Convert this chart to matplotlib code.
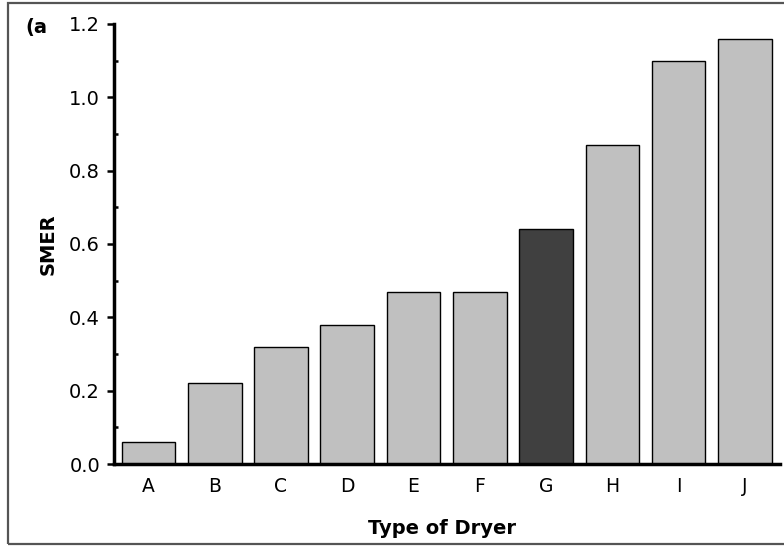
import matplotlib
matplotlib.use("Agg")
import matplotlib.pyplot as plt
from matplotlib.patches import Rectangle
from matplotlib.ticker import MultipleLocator, FormatStrFormatter

categories = ["A", "B", "C", "D", "E", "F", "G", "H", "I", "J"]
smer = [0.06, 0.22, 0.32, 0.38, 0.47, 0.47, 0.64, 0.87, 1.10, 1.16]
highlight = "G"

plt.rcParams['font.family'] = ['DejaVu Sans']

fig = plt.figure(figsize=(7.84, 5.46), dpi=100)
ax = fig.add_axes([114/784, 1-464/546, (780-114)/784, (464-24)/546])

colors = ["#404040" if c == highlight else "#C0C0C0" for c in categories]
x = list(range(len(categories)))
ax.bar(x, smer, width=0.81, color=colors, edgecolor="black", linewidth=1.0, zorder=2)

ax.set_xlim(-0.52, 9.53)
ax.set_ylim(0, 1.2)
ax.set_xticks(x)
ax.set_xticklabels(categories)
ax.yaxis.set_major_locator(MultipleLocator(0.2))
ax.yaxis.set_minor_locator(MultipleLocator(0.1))
ax.yaxis.set_major_formatter(FormatStrFormatter('%.1f'))

for s in ["top", "right"]:
    ax.spines[s].set_visible(False)
for s in ["left", "bottom"]:
    ax.spines[s].set_linewidth(2.5)
    ax.spines[s].set_zorder(3)

ax.tick_params(axis='x', length=0, pad=9, labelsize=13.5)
ax.tick_params(axis='y', which='major', direction='out', length=5, width=1.8, labelsize=14, pad=5)
ax.tick_params(axis='y', which='minor', direction='in', length=3, width=1.8)

ax.set_ylabel("SMER", fontsize=14, fontweight='bold')
ax.yaxis.label.set_va('center')
ax.yaxis.set_label_coords((48-114)/666, 0.5)
ax.set_xlabel("Type of Dryer", fontsize=14, fontweight='bold')
ax.xaxis.label.set_va('center')
ax.xaxis.set_label_coords(0.493, -(529-464)/440)

fig.text(25/784, 1-28/546, "(a", fontsize=14, fontweight='bold', ha='left', va='center')

fig.patches.append(Rectangle((8/784, 2/546), 1.0, 541/546, transform=fig.transFigure,
                             fill=False, edgecolor="#555555", linewidth=1.6, clip_on=False))

fig.savefig("out.png", dpi=100)
